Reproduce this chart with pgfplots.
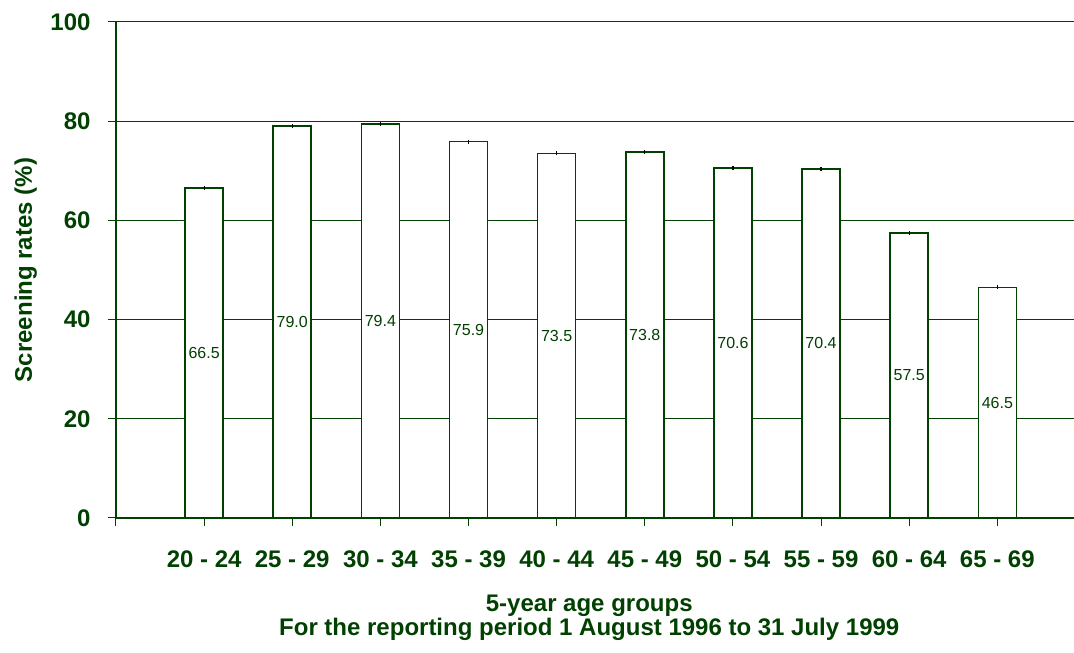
\documentclass[border=0pt]{standalone}
\usepackage{pgfplots}
\usepackage{pgfplotstable}
\pgfplotsset{compat=1.18}
\usepackage{fontspec}
\setmainfont{Liberation Sans}
\definecolor{dkgreen}{RGB}{0,64,0}

\pgfplotstableread{
x v lab
1 66.5 66.5
2 79.0 79.0
3 79.4 79.4
4 75.9 75.9
5 73.5 73.5
6 73.8 73.8
7 70.6 70.6
8 70.4 70.4
9 57.5 57.5
10 46.5 46.5
}\rates

\begin{document}
\begin{tikzpicture}
\begin{axis}[
  name=a,
  scale only axis,
  width=958pt, height=496pt,
  xmin=0, xmax=10.87,
  ymin=0, ymax=100,
  enlargelimits=false,
  axis x line*=bottom,
  axis y line*=left,
  axis line style={-, draw=dkgreen, line width=1.1pt},
  ytick={0,20,...,100},
  xtick={0,...,10},
  xticklabels={,20 - 24,25 - 29,30 - 34,35 - 39,40 - 44,45 - 49,50 - 54,55 - 59,60 - 64,65 - 69},
  tick align=outside,
  major tick length=8pt,
  tick style={draw=dkgreen, line width=1pt},
  ymajorgrids,
  grid style={draw=dkgreen, line width=1pt},
  /pgf/number format/assume math mode=true,
  ticklabel style={font=\fontsize{24}{24}\selectfont\bfseries, text=dkgreen},
  yticklabel style={xshift=-14pt},
  xticklabel style={yshift=-21pt},
  every axis x label/.style={at={(axis description cs:0.494,-0.1895)}, anchor=base},
  every axis y label/.style={at={(axis description cs:-0.0877,0.5)}, rotate=90, anchor=base},
  label style={font=\fontsize{24}{24}\selectfont\bfseries, text=dkgreen},
  xlabel={5-year age groups},
  ylabel={Screening rates (\%)},
  clip=false,
]
\addplot[ybar, bar shift=0pt, bar width=38pt, fill=white, draw=dkgreen, line width=1.6pt,
  error bars/.cd, y dir=both, y explicit, error mark=none,
  error bar style={black, line width=1.2pt}]
  table[x=x, y=v, y error expr=0.4] {\rates};
\addplot[draw=none, mark=none, nodes near coords, point meta=explicit symbolic,
  every node near coord/.append style={anchor=center, font=\fontsize{16}{16}\selectfont, text=dkgreen}]
  table[x=x, y expr=\thisrow{v}/2, meta=lab] {\rates};
\node[anchor=base, font=\fontsize{24}{24}\selectfont\bfseries, text=dkgreen]
  at (axis description cs:0.494,-0.2379) {For the reporting period 1 August 1996 to 31 July 1999};
\end{axis}
\pgfresetboundingbox
\path ([shift={(-116pt,-135pt)}]a.south west) rectangle ([shift={(0pt,22pt)}]a.north east);
\end{tikzpicture}
\end{document}
